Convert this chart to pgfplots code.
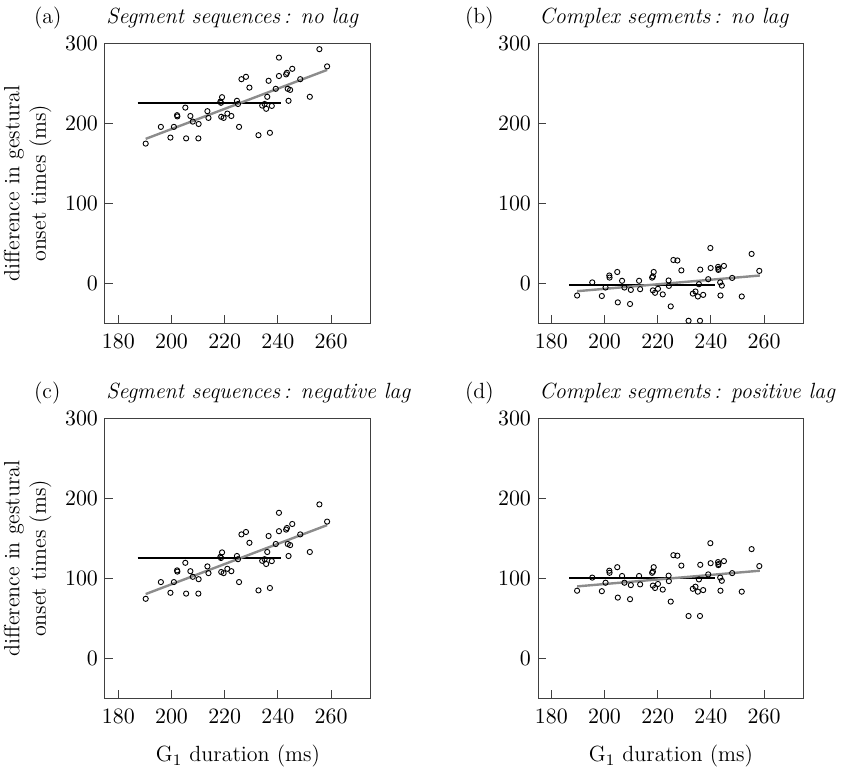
\documentclass[border=0pt]{standalone}
\usepackage{pgfplots}
\pgfplotsset{compat=1.18}
\usepackage{pgfplotstable}

% panel (a): segment sequences, no lag
\pgfplotstableread{
x y
190.3 174.5
196.0 195.4
199.6 182.0
200.9 195.4
202.1 210.0
202.2 208.5
205.2 219.5
205.5 181.0
207.1 209.0
208.0 202.0
210.1 181.0
210.2 199.0
213.5 215.0
213.9 206.6
218.4 227.0
218.6 225.5
219.0 232.5
218.7 208.0
219.6 206.6
221.0 212.0
222.5 209.0
224.6 228.0
225.0 224.0
225.4 195.4
226.3 255.0
228.0 258.0
229.3 244.5
232.7 185.0
234.1 222.0
235.0 224.0
235.6 218.0
236.0 233.0
236.5 253.0
237.0 188.0
237.7 221.6
239.2 243.0
240.4 282.0
240.4 259.0
243.1 261.0
243.4 263.0
243.7 243.0
244.0 228.0
244.6 241.6
245.4 268.0
248.4 255.0
252.0 233.0
255.6 292.5
258.5 271.0
}\dataA

% panel (b): complex segments, no lag
\pgfplotstableread{
x y
189.7 -15.4
195.4 1.0
199.0 -16.0
200.4 -5.4
201.8 9.6
201.9 7.0
204.8 14.0
205.0 -24.0
206.6 3.0
207.5 -5.4
209.6 -26.0
209.9 -8.4
213.0 3.0
213.4 -7.5
217.9 7.0
218.2 8.5
218.5 14.0
218.2 -9.0
219.0 -12.0
220.1 -7.0
221.9 -14.0
224.1 3.4
224.2 -3.4
224.9 -29.0
225.9 29.0
227.4 28.4
228.9 16.0
231.6 -47.0
233.2 -13.0
234.2 -10.4
235.1 -16.6
235.5 -1.3
235.9 -47.0
236.0 17.0
237.1 -14.6
239.0 5.0
239.8 44.0
239.9 19.0
242.7 20.4
242.8 16.6
242.9 18.0
243.5 1.0
243.6 -15.4
244.1 -3.0
244.9 21.6
248.0 6.6
251.6 -16.6
255.3 36.6
258.2 15.4
}\dataB

% panel (c): segment sequences, negative lag
\pgfplotstableread{
x y
190.3 74.5
196.0 95.4
199.6 82.0
200.9 95.4
202.1 110.0
202.2 108.5
205.2 119.5
205.5 81.0
207.1 109.0
208.0 102.0
210.1 81.0
210.2 99.0
213.5 115.0
213.9 106.6
218.4 127.0
218.6 125.5
219.0 132.5
218.7 108.0
219.6 106.6
221.0 112.0
222.5 109.0
224.6 128.0
225.0 124.0
225.4 95.4
226.3 155.0
228.0 158.0
229.3 144.5
232.7 85.0
234.1 122.0
235.0 124.0
235.6 118.0
236.0 133.0
236.5 153.0
237.0 88.0
237.7 121.6
239.2 143.0
240.4 182.0
240.4 159.0
243.1 161.0
243.4 163.0
243.7 143.0
244.0 128.0
244.6 141.6
245.4 168.0
248.4 155.0
252.0 133.0
255.6 192.5
258.5 171.0
}\dataC

% panel (d): complex segments, positive lag
\pgfplotstableread{
x y
189.7 84.6
195.4 101.0
199.0 84.0
200.4 94.6
201.8 109.6
201.9 107.0
204.8 114.0
205.0 76.0
206.6 103.0
207.5 94.6
209.6 74.0
209.9 91.6
213.0 103.0
213.4 92.5
217.9 107.0
218.2 108.5
218.5 114.0
218.2 91.0
219.0 88.0
220.1 93.0
221.9 86.0
224.1 103.4
224.2 96.6
224.9 71.0
225.9 129.0
227.4 128.4
228.9 116.0
231.6 53.0
233.2 87.0
234.2 89.6
235.1 83.4
235.5 98.7
235.9 53.0
236.0 117.0
237.1 85.4
239.0 105.0
239.8 144.0
239.9 119.0
242.7 120.4
242.8 116.6
242.9 118.0
243.5 101.0
243.6 84.6
244.1 97.0
244.9 121.6
248.0 106.6
251.6 83.4
255.3 136.6
258.2 115.4
}\dataD

\pgfplotsset{
  panel/.style={
    scale only axis, width=133pt, height=140pt,
    anchor=north west,
    xmin=175, xmax=275, ymin=-50, ymax=300,
    xtick={180,200,220,240,260}, ytick={0,100,200,300},
    tick align=inside, tick pos=left,
    major tick length=4pt,
    axis line style={black!75, line width=0.5pt},
    tick style={black!75, line width=0.5pt},
    ticklabel style={font=\fontsize{11}{13}\selectfont},
    xticklabel style={yshift=-2pt},
    ylabel style={align=center},
    xlabel style={yshift=-4pt},
  },
  pts/.style={only marks, mark=o, black, mark size=1.3pt, mark options={line width=0.45pt}},
  flat/.style={black, line width=1.1pt},
  fit/.style={black!45, line width=1.2pt},
}

\begin{document}
\begin{tikzpicture}[font=\fontsize{11}{13.2}\selectfont]
\path[use as bounding box] (0,0) rectangle (429.5pt,-384.5pt);

\begin{axis}[panel, at={(52.5pt,-21.6pt)},
  ylabel={difference in gestural\\onset times (ms)}]
  \addplot[pts] table[x=x,y=y]{\dataA};
  \addplot[flat] coordinates {(187.3,225) (241.2,225)};
  \addplot[fit] coordinates {(190.3,180.4) (258.5,266.6)};
\end{axis}

\begin{axis}[panel, at={(269pt,-21.6pt)}]
  \addplot[pts] table[x=x,y=y]{\dataB};
  \addplot[flat] coordinates {(186.7,-2) (241.4,-2)};
  \addplot[fit] coordinates {(189.7,-10) (258.4,9.6)};
\end{axis}

\begin{axis}[panel, at={(52.5pt,-209.2pt)},
  ylabel={difference in gestural\\onset times (ms)},
  xlabel={G$_1$ duration (ms)}]
  \addplot[pts] table[x=x,y=y]{\dataC};
  \addplot[flat] coordinates {(187.3,125) (241.2,125)};
  \addplot[fit] coordinates {(190.3,80.4) (258.5,166.6)};
\end{axis}

\begin{axis}[panel, at={(269pt,-209.2pt)},
  xlabel={G$_1$ duration (ms)}]
  \addplot[pts] table[x=x,y=y]{\dataD};
  \addplot[flat] coordinates {(186.7,100) (241.4,100)};
  \addplot[fit] coordinates {(189.7,90) (258.4,109.6)};
\end{axis}

% panel letters and titles
\node[anchor=base west] at (13.5pt,-12pt) {(a)};
\node[anchor=base west, inner sep=0pt] at (53pt,-12pt) {\itshape Segment sequences\,: no lag};
\node[anchor=base west] at (229pt,-12pt) {(b)};
\node[anchor=base west, inner sep=0pt] at (269.5pt,-12pt) {\itshape Complex segments\,: no lag};
\node[anchor=base west] at (13.5pt,-199.5pt) {(c)};
\node[anchor=base west, inner sep=0pt] at (53pt,-199.5pt) {\itshape Segment sequences\,: negative lag};
\node[anchor=base west] at (229pt,-199.5pt) {(d)};
\node[anchor=base west, inner sep=0pt] at (269.5pt,-199.5pt) {\itshape Complex segments\,: positive lag};
\end{tikzpicture}
\end{document}
